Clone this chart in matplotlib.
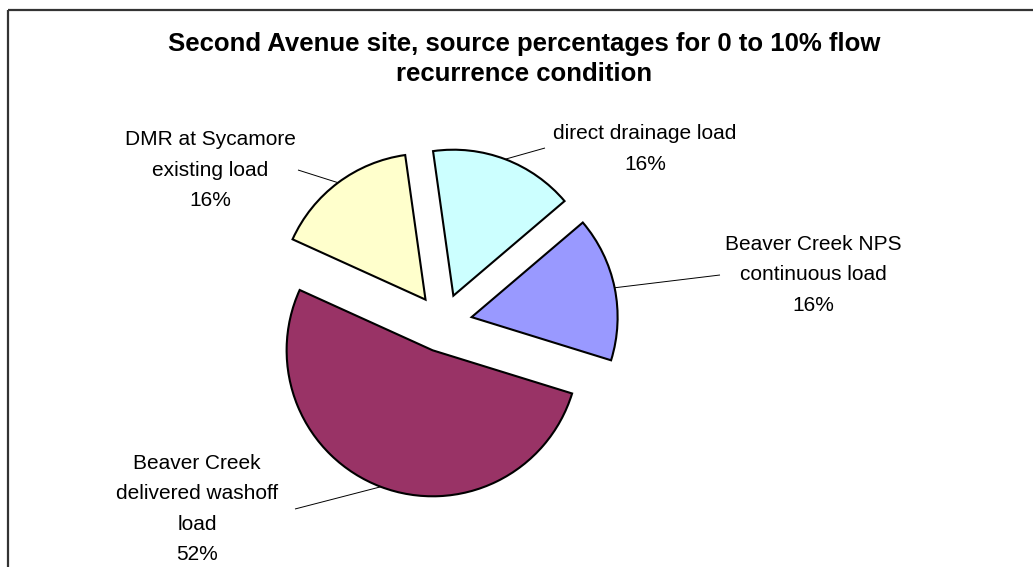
import matplotlib
matplotlib.use("Agg")
import matplotlib.pyplot as plt
from matplotlib.patches import Rectangle
import numpy as np

# ---- data ----
title = "Second Avenue site, source percentages for 0 to 10% flow\nrecurrence condition"
categories = ["direct drainage load",
              "Beaver Creek NPS\ncontinuous load",
              "Beaver Creek\ndelivered washoff\nload",
              "DMR at Sycamore\nexisting load"]
percentages = [16, 16, 52, 16]
colors = ["#CCFFFF", "#9999FF", "#993366", "#FFFFCC"]

# ---- layout (pixel space, y down) ----
W, H = 1033, 567
R = 146
CENTER = (443, 323)
EXPLODE = 0.2 * R
label_pos = [(645, 149), (813, 275), (197, 509), (210, 170)]
line_end = [(545, 148), (720, 275), (295, 509), (298, 170)]

plt.rcParams['font.family'] = ['Liberation Sans', 'DejaVu Sans']

fig = plt.figure(figsize=(W / 100, H / 100), dpi=100)
ax = fig.add_axes([0, 0, 1, 1])

wedges, _ = ax.pie(percentages, colors=colors, startangle=-98, counterclock=True,
                   radius=R, center=CENTER, explode=[EXPLODE] * len(percentages),
                   wedgeprops=dict(edgecolor='black', linewidth=1.5))
ax.set_xlim(0, W)
ax.set_ylim(H, 0)
ax.set_aspect('equal')
ax.axis('off')

for w, cat, pct, (tx, ty), (ex, ey) in zip(wedges, categories, percentages, label_pos, line_end):
    mid = np.deg2rad(0.5 * (w.theta1 + w.theta2))
    cx, cy = w.center
    sx, sy = cx + w.r * np.cos(mid), cy + w.r * np.sin(mid)
    ax.plot([sx, ex], [sy, ey], color='black', lw=0.7, solid_capstyle='butt')
    ax.text(tx, ty, f"{cat}\n{pct}%", ha='center', va='center', fontsize=15,
            linespacing=1.75, color='black')

ax.text(W / 2 + 8, 59, title, ha='center', va='center', fontsize=18.5, fontweight='bold',
        linespacing=1.3, color='black')

ax.add_patch(Rectangle((7.5, 9.5), W, H, fill=False, edgecolor='#333333', lw=1.6,
                       clip_on=False))

fig.savefig("out.png", dpi=100)
